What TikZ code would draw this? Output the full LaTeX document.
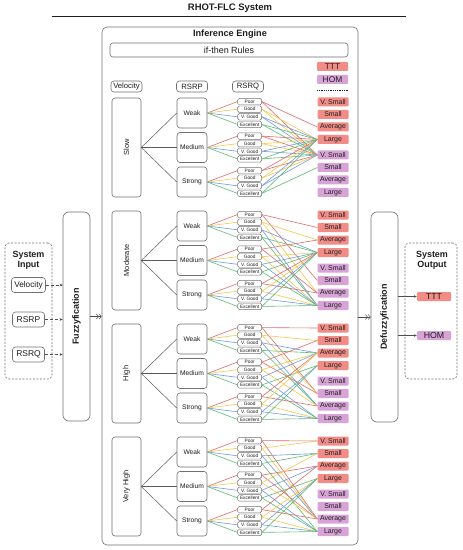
\documentclass[tikz,border=0pt]{standalone}
\usepackage{fontspec}
\setmainfont{Liberation Sans}
\usetikzlibrary{arrows.meta}
\definecolor{bordc}{HTML}{707070}
\definecolor{txtc}{HTML}{1E1E1E}
\definecolor{cr}{HTML}{E06B6B}
\definecolor{cy}{HTML}{F2C94C}
\definecolor{cb}{HTML}{6F9BD8}
\definecolor{cg}{HTML}{5DBB72}
\definecolor{tttc}{HTML}{F28C86}
\definecolor{homc}{HTML}{D8A4D8}
\tikzset{
  rbox/.style={draw=bordc, rounded corners=3bp, fill=white, line width=0.6pt, inner sep=0pt, text=txtc},
  dbox/.style={draw=bordc, rounded corners=4bp, line width=0.6pt, dash pattern=on 2bp off 1.5bp},
  qbox/.style={rbox, rounded corners=1.5bp, minimum width=24bp, minimum height=6.4bp, line width=0.45pt, font=\fontsize{4.8}{4.8}\selectfont},
  tttbox/.style={fill=tttc, rounded corners=1bp, minimum width=31bp, minimum height=9bp, inner sep=0pt, text=txtc, font=\fontsize{7}{7}\selectfont},
  hombox/.style={fill=homc, rounded corners=1bp, minimum width=31bp, minimum height=9bp, inner sep=0pt, text=txtc, font=\fontsize{7}{7}\selectfont},
  conn/.style={draw=bordc!80!black, line width=0.5pt},
  rl/.style={line width=0.6pt},
  dbl/.style={draw=bordc!70!black, line width=0.5pt, -{Straight Barb[length=2.2bp,width=5bp] Straight Barb[length=2.2bp,width=5bp]}},
  inarr/.style={draw=bordc!70!black, line width=0.5pt, densely dashed, -{Stealth[length=3bp,width=2.6bp]}},
  outarr/.style={draw=bordc!70!black, line width=0.5pt, -{Stealth[length=3bp,width=2.6bp]}}
}
\begin{document}
\begin{tikzpicture}[x=1bp,y=-1bp]
\useasboundingbox (0,0) rectangle (463,550);
% title
\node[font=\bfseries\fontsize{9.5}{9.5}\selectfont, text=txtc] (title) at (230,8) {RHOT-FLC System};
\coordinate (tl) at (52,16); \coordinate (tr) at (406,16);
\draw[line width=0.8pt, txtc] (tl) -- (tr);
% inference engine
\node[rbox, rounded corners=5bp, minimum width=256bp, minimum height=518bp] (ie) at (230,286) {};
\node[font=\bfseries\fontsize{9.2}{9}\selectfont, text=txtc] (ietitle) at (230,34.5) {Inference Engine};
\node[rbox, minimum width=238bp, minimum height=14bp, font=\fontsize{9}{9}\selectfont] (rules) at (229,50) {if-then Rules};
\node[tttbox, font=\fontsize{8.4}{8}\selectfont] (legttt) at (332.5,66.5) {TTT};
\node[hombox, font=\fontsize{8.4}{8}\selectfont] (leghom) at (332.5,79.5) {HOM};
\coordinate (dl) at (317,90); \coordinate (dr) at (348,90);
\draw[densely dotted, line width=0.8pt, txtc] (dl) -- (dr);
% headers
\node[rbox, minimum width=31bp, minimum height=11bp, font=\fontsize{7.7}{7.7}\selectfont] (hv) at (126.5,86.5) {Velocity};
\node[rbox, minimum width=31bp, minimum height=11bp, font=\fontsize{7.7}{7.7}\selectfont] (hp) at (192,86.5) {RSRP};
\node[rbox, minimum width=31bp, minimum height=11bp, font=\fontsize{7.7}{7.7}\selectfont] (hq) at (248,86.5) {RSRQ};
% blocks
\foreach \k/\T/\vel in {1/98/Slow, 2/211/Moderate, 3/324/High, 4/437/Very High} {
  \node[rbox, minimum width=29bp, minimum height=99bp] (v-\k) at (126.5,{\T+49.5}) {};
  \node[rotate=90, font=\fontsize{7.5}{7.5}\selectfont, text=txtc] (vl-\k) at (v-\k.center) {\vel};
  \foreach \j/\lab/\dy in {1/Weak/15, 2/Medium/49.5, 3/Strong/84} {
    \node[rbox, minimum width=30bp, minimum height=30bp, font=\fontsize{6.7}{6.7}\selectfont] (p-\k-\j) at (192,{\T+\dy}) {\lab};
    \draw[conn] (v-\k.east) -- (p-\k-\j.west);
    \foreach \m/\ql/\col in {1/Poor/cr, 2/Good/cy, 3/V. Good/cb, 4/Excellent/cg} {
      \node[qbox] (q-\k-\j-\m) at (249.7,{\T+\dy+(\m-2.5)*7.6}) {\ql};
      \draw[rl, draw=\col] (p-\k-\j.east) -- (q-\k-\j-\m.west);
    }
  }
  \foreach \t/\ol/\dy in {1/V. Small/4, 2/Small/16.5, 3/Average/29, 4/Large/41.5} {
    \node[tttbox] (o-\k-\t) at (333,{\T+\dy}) {\ol};
  }
  \foreach \t/\ol/\dy in {5/V. Small/57, 6/Small/69.5, 7/Average/82, 8/Large/94.5} {
    \node[hombox] (o-\k-\t) at (333,{\T+\dy}) {\ol};
  }
}
% rules: block 1 (Slow)
\foreach \j/\m/\c/\a/\b in {1/1/cr/3/5, 1/2/cy/4/5, 1/3/cb/4/5, 1/4/cg/4/5,
  2/1/cr/4/5, 2/2/cy/4/5, 2/3/cb/4/5, 2/4/cg/4/5,
  3/1/cr/4/5, 3/2/cy/4/5, 3/3/cb/4/5, 3/4/cg/4/6} {
  \draw[rl, draw=\c] (q-1-\j-\m.east) -- (o-1-\a.west);
  \draw[rl, draw=\c] (q-1-\j-\m.east) -- (o-1-\b.west);
}
% block 2 (Moderate)
\foreach \j/\m/\c/\a/\b in {1/1/cr/2/6, 1/2/cy/3/7, 1/3/cb/4/8, 1/4/cg/4/8,
  2/1/cr/3/7, 2/2/cy/4/8, 2/3/cb/4/8, 2/4/cg/4/8,
  3/1/cr/4/7, 3/2/cy/4/8, 3/3/cb/4/8, 3/4/cg/4/8} {
  \draw[rl, draw=\c] (q-2-\j-\m.east) -- (o-2-\a.west);
  \draw[rl, draw=\c] (q-2-\j-\m.east) -- (o-2-\b.west);
}
% block 3 (High)
\foreach \j/\m/\c/\a/\b in {1/1/cr/1/6, 1/2/cy/2/6, 1/3/cb/3/7, 1/4/cg/3/7,
  2/1/cr/2/6, 2/2/cy/3/7, 2/3/cb/3/8, 2/4/cg/4/8,
  3/1/cr/3/7, 3/2/cy/3/8, 3/3/cb/4/8, 3/4/cg/4/8} {
  \draw[rl, draw=\c] (q-3-\j-\m.east) -- (o-3-\a.west);
  \draw[rl, draw=\c] (q-3-\j-\m.east) -- (o-3-\b.west);
}
% block 4 (Very High)
\foreach \j/\m/\c/\a/\b in {1/1/cr/1/7, 1/2/cy/1/7, 1/3/cb/2/7, 1/4/cg/2/8,
  2/1/cr/3/7, 2/2/cy/2/7, 2/3/cb/3/8, 2/4/cg/4/8,
  3/1/cr/3/7, 3/2/cy/4/8, 3/3/cb/4/8, 3/4/cg/4/8} {
  \draw[rl, draw=\c] (q-4-\j-\m.east) -- (o-4-\a.west);
  \draw[rl, draw=\c] (q-4-\j-\m.east) -- (o-4-\b.west);
}
% input side
\node[dbox, minimum width=47bp, minimum height=136bp] (sin) at (28.5,311) {};
\node[font=\bfseries\fontsize{9}{10.5}\selectfont, align=center, text=txtc] (sintitle) at (28.5,260.5) {System\\Input};
\node[rbox, minimum width=34bp, minimum height=15bp, font=\fontsize{8.3}{8}\selectfont] (inv) at (28.5,285) {Velocity};
\node[rbox, minimum width=32bp, minimum height=15bp, font=\fontsize{8.5}{8}\selectfont] (inp) at (28.5,319.5) {RSRP};
\node[rbox, minimum width=32bp, minimum height=15bp, font=\fontsize{8.5}{8}\selectfont] (inq) at (28.5,354.5) {RSRQ};
\node[rbox, rounded corners=6bp, minimum width=27bp, minimum height=209bp] (fz) at (76.5,316.5) {};
\node[rotate=90, font=\bfseries\fontsize{9}{9}\selectfont, text=txtc] (fzl) at (fz.center) {Fuzzyfication};
\draw[inarr] (inv.east) -- (inv.east -| fz.west);
\draw[inarr] (inp.east) -- (inp.east -| fz.west);
\draw[inarr] (inq.east) -- (inq.east -| fz.west);
\draw[dbl] (fz.east) -- (fz.east -| ie.west);
% output side
\node[rbox, rounded corners=6bp, minimum width=27bp, minimum height=210bp] (df) at (384.5,317) {};
\node[rotate=90, font=\bfseries\fontsize{9}{9}\selectfont, text=txtc] (dfl) at (df.center) {Defuzzyfication};
\draw[dbl] (ie.east |- df.west) -- (df.west);
\node[dbox, minimum width=52bp, minimum height=136bp] (sout) at (431,311) {};
\node[font=\bfseries\fontsize{9}{10.5}\selectfont, align=center, text=txtc] (souttitle) at (432,260.5) {System\\Output};
\node[tttbox, minimum width=34bp, font=\fontsize{8.8}{8}\selectfont] (ottt) at (434,296.5) {TTT};
\node[hombox, minimum width=34bp, font=\fontsize{8.8}{8}\selectfont] (ohom) at (434,335.5) {HOM};
\draw[outarr] (df.east |- ottt.west) -- (ottt.west);
\draw[outarr] (df.east |- ohom.west) -- (ohom.west);
\end{tikzpicture}
\end{document}
